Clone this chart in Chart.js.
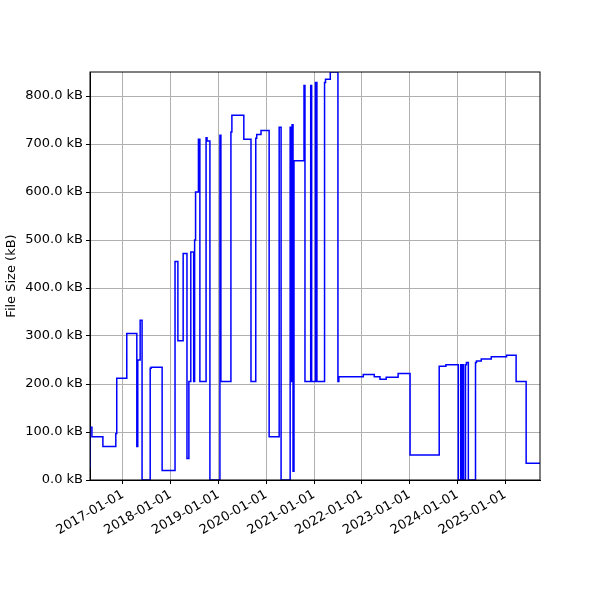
<!DOCTYPE html>
<html>
<head>
<script src="https://cdn.jsdelivr.net/npm/chart.js@4"></script>
<style>body{margin:0;background:#fff}</style>
</head>
<body>
<canvas id="c" width="600" height="600"></canvas>
<script>
// decimal years and file sizes (kB), step "after"
const years = [2016.31,2016.35,2016.58,2016.85,2016.87,2017.08,2017.29,2017.31,2017.36,2017.40,2017.57,2017.59,2017.82,
  2018.09,2018.15,2018.26,2018.34,2018.38,2018.42,2018.48,2018.50,2018.52,2018.58,2018.61,2018.74,2018.76,2018.82,
  2019.03,2019.05,2019.26,2019.28,2019.53,2019.68,2019.78,2019.80,2019.89,2020.06,2020.27,2020.31,2020.50,2020.52,
  2020.54,2020.56,2020.58,2020.79,2020.81,2020.93,2020.95,2021.03,2021.06,2021.22,2021.24,2021.34,2021.50,2021.52,
  2022.03,2022.26,2022.38,2022.51,2022.76,2023.01,2023.62,2023.76,2024.02,2024.07,2024.09,2024.11,2024.13,2024.17,
  2024.19,2024.23,2024.38,2024.40,2024.50,2024.71,2025.03,2025.23,2025.44,2025.73];
const sizes = [25,110,90,70,97,212,305,70,250,333,0,233,235,
  20,455,290,472,45,205,475,205,500,600,710,205,713,706,
  0,718,205,725,760,710,205,712,720,728,90,735,0,735,
  205,740,18,665,822,205,822,205,828,205,828,835,850,205,
  215,220,215,210,214,222,52,237,240,0,240,0,240,0,
  240,245,0,245,248,252,257,260,205,35];
const yTicks = [0,100,200,300,400,500,600,700,800];
const xTickYears = [2017,2018,2019,2020,2021,2022,2023,2024,2025];

const boxPlugin = {
  id: 'box',
  afterDraw(chart) {
    const a = chart.chartArea, ctx = chart.ctx;
    ctx.save(); ctx.strokeStyle = '#000'; ctx.lineWidth = 1;
    ctx.strokeRect(a.left, a.top, a.right - a.left, a.bottom - a.top);
    ctx.restore();
  }
};

new Chart(document.getElementById('c'), {
  type: 'line',
  data: {
    datasets: [{
      data: years.map((x, i) => ({x: x, y: sizes[i]})),
      borderColor: '#0000ff',
      borderWidth: 1.5,
      pointRadius: 0,
      stepped: 'after',
      fill: false
    }]
  },
  options: {
    responsive: false,
    animation: false,
    layout: {padding: {top: 72, right: 60, left: 0, bottom: 0}},
    plugins: {legend: {display: false}, tooltip: {enabled: false}},
    scales: {
      x: {
        type: 'linear', min: 2016.31, max: 2025.73,
        afterBuildTicks: s => { s.ticks = xTickYears.map(v => ({value: v})); },
        afterFit: s => { s.height = 120; },
        ticks: {minRotation: 30, maxRotation: 30, color: '#000', font: {size: 13, family: 'DejaVu Sans'},
          callback: v => v + '-01-01'},
        grid: {color: '#b0b0b0', tickColor: '#000', tickLength: 4},
        border: {color: '#000'}
      },
      y: {
        min: 0, max: 850,
        afterBuildTicks: s => { s.ticks = yTicks.map(v => ({value: v})); },
        afterFit: s => { s.width = 90; },
        ticks: {color: '#000', font: {size: 13, family: 'DejaVu Sans'},
          callback: v => v.toFixed(1) + ' kB'},
        grid: {color: '#b0b0b0', tickColor: '#000', tickLength: 4},
        border: {color: '#000'},
        title: {display: true, text: 'File Size (kB)', color: '#000', font: {size: 13, family: 'DejaVu Sans'}}
      }
    }
  },
  plugins: [boxPlugin]
});
</script>
</body>
</html>
